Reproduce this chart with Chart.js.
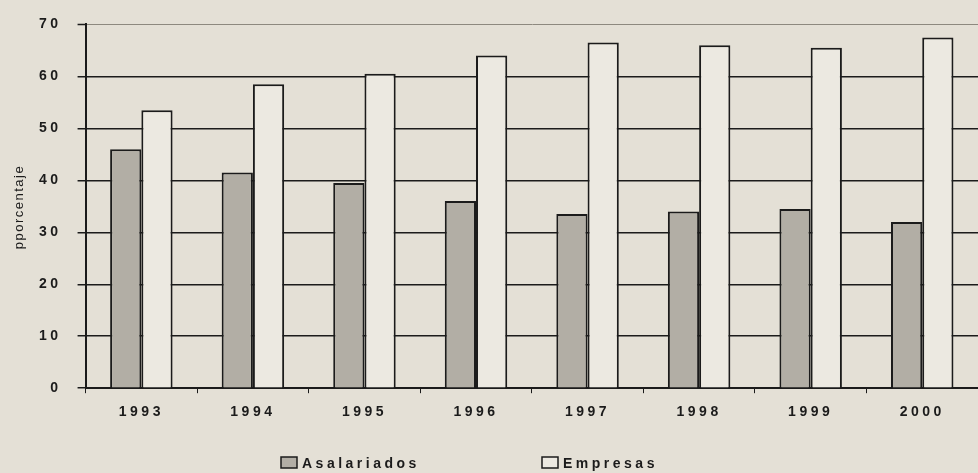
<!DOCTYPE html>
<html>
<head>
<meta charset="utf-8">
<script src="https://cdn.jsdelivr.net/npm/chart.js@4"></script>
<style>
    html, body { margin: 0; padding: 0; background: #e4e0d6; }
    canvas { display: block; }
</style>
</head>
<body>
<canvas id="shareChart" width="978" height="473"></canvas>
<script>
// Values (percent)
const years = ['1993', '1994', '1995', '1996', '1997', '1998', '1999', '2000'];
const asalariados = [46, 41.5, 39.5, 36, 33.5, 34, 34.5, 32];
const empresas = [53.5, 58.5, 60.5, 64, 66.5, 66, 65.5, 67.5];
const seriesNames = ['Asalariados', 'Empresas'];
const yMin = 0;
const yMax = 70;
const yStep = 10;
const yTitle = 'pporcentaje';

const ink = '#1b1b1b';
const fontFamily = '"Liberation Sans", Arial, sans-serif';

// spaced-out lettering like the original print
const letterSpacing = {
    id: 'letterSpacing',
    beforeUpdate(chart) { chart.ctx.letterSpacing = '3.5px'; },
    beforeLayout(chart) { chart.ctx.letterSpacing = '3.5px'; },
    beforeDraw(chart) { chart.ctx.letterSpacing = '3.5px'; }
};

// axis title drawn by hand so it keeps normal spacing
const axisTitle = {
    id: 'axisTitle',
    afterDraw(chart) {
        const ctx = chart.ctx;
        ctx.save();
        ctx.letterSpacing = '1.5px';
        ctx.font = '13px ' + fontFamily;
        ctx.fillStyle = ink;
        ctx.textAlign = 'center';
        ctx.textBaseline = 'middle';
        ctx.translate(19, 207);
        ctx.rotate(-Math.PI / 2);
        ctx.fillText(yTitle, 0, 0);
        ctx.restore();
    }
};

// legend row at the bottom, items far apart as in the original
const legendRow = {
    id: 'legendRow',
    afterDraw(chart) {
        const ctx = chart.ctx;
        const starts = [281, 542];
        ctx.save();
        ctx.letterSpacing = '3.5px';
        ctx.font = 'bold 14px ' + fontFamily;
        ctx.textBaseline = 'middle';
        chart.data.datasets.forEach((ds, i) => {
            const x = starts[i];
            const y = 463;
            ctx.fillStyle = ds.backgroundColor;
            ctx.fillRect(x, y - 6, 16, 11);
            ctx.strokeStyle = ink;
            ctx.lineWidth = 1.5;
            ctx.strokeRect(x, y - 6, 16, 11);
            ctx.fillStyle = ink;
            ctx.fillText(ds.label, x + 21, y + 1);
        });
        ctx.restore();
    }
};

const ctx = document.getElementById('shareChart').getContext('2d');
new Chart(ctx, {
    type: 'bar',
    data: {
        labels: years,
        datasets: [{
            label: seriesNames[0],
            data: asalariados,
            backgroundColor: '#b2aea5',
            borderColor: ink,
            borderWidth: 2,
            categoryPercentage: 0.56,
            barPercentage: 1
        },
        {
            label: seriesNames[1],
            data: empresas,
            backgroundColor: '#ece9e1',
            borderColor: ink,
            borderWidth: 2,
            categoryPercentage: 0.56,
            barPercentage: 1
        }]
    },
    options: {
        responsive: false,
        animation: false,
        layout: {
            padding: { left: 23, top: 18, right: 0, bottom: 41 }
        },
        plugins: {
            legend: { display: false },
            tooltip: { enabled: false }
        },
        scales: {
            x: {
                grid: {
                    drawOnChartArea: false,
                    drawTicks: true,
                    tickLength: 5,
                    tickColor: ink,
                    tickWidth: 1
                },
                border: { color: ink, width: 2 },
                ticks: {
                    color: ink,
                    padding: 11,
                    font: { family: fontFamily, size: 14, weight: 'bold' }
                }
            },
            y: {
                min: yMin,
                max: yMax,
                grid: {
                    color: c => c.tick.value === yMax ? '#8d897f' : ink,
                    lineWidth: c => c.tick.value === yMax ? 1 : 1.5,
                    tickLength: 8,
                    tickColor: ink,
                    tickWidth: 1.5
                },
                border: { color: ink, width: 2 },
                ticks: {
                    stepSize: yStep,
                    color: ink,
                    padding: 16,
                    font: { family: fontFamily, size: 14, weight: 'bold' }
                }
            }
        }
    },
    plugins: [letterSpacing, axisTitle, legendRow]
});
</script>
</body>
</html>
